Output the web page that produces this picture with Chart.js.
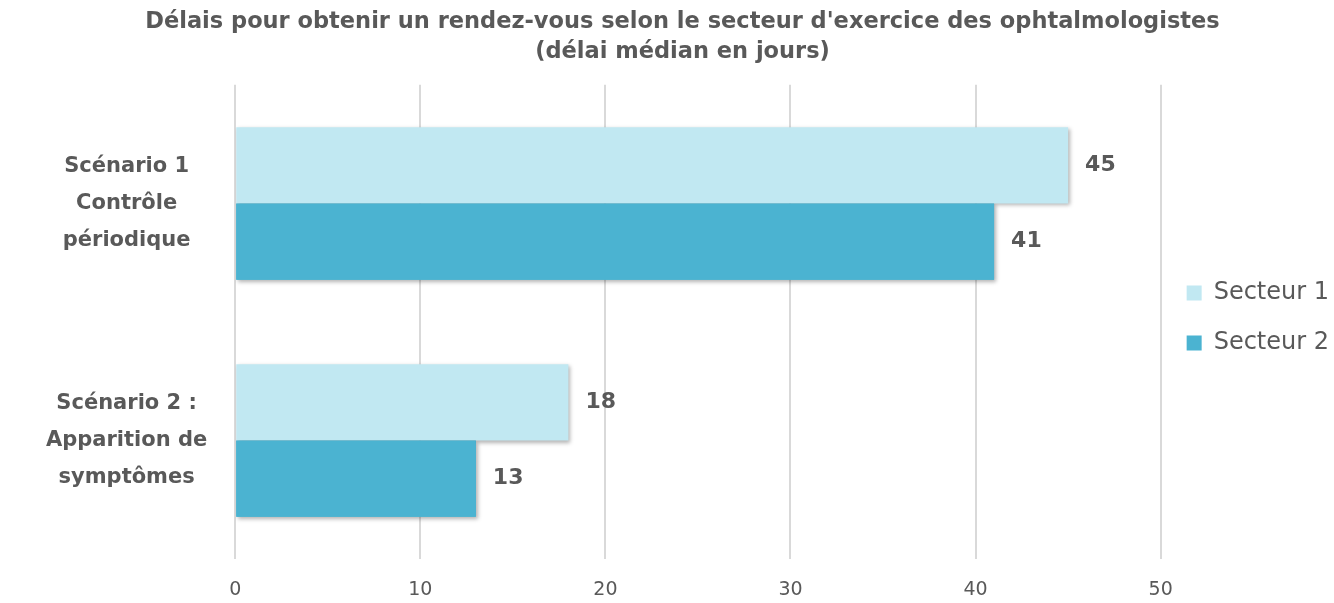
<!DOCTYPE html>
<html>
<head>
<meta charset="utf-8">
<script src="https://cdn.jsdelivr.net/npm/chart.js@4"></script>
<style>
  html, body { margin: 0; padding: 0; background: #ffffff; }
  #wrap { width: 1334px; height: 603px; }
</style>
</head>
<body>
<div id="wrap"><canvas id="myChart"></canvas></div>
<script>
//data

const categories = [
  ['Scénario 1', 'Contrôle', 'périodique'],
  ['Scénario 2 :', 'Apparition de', 'symptômes']
];
const secteur1 = [45, 18];
const secteur2 = [41, 13];
const xTicks = [0, 10, 20, 30, 40, 50];

const FONT = "'DejaVu Sans', sans-serif";
const GREY = '#595959';

//plugins

// soft shadow under the bars
// chart.js paints the 2nd dataset first, so it is painted again at the end
// to keep the shadow of the 1st one off it
const barShadow = {
  id: 'barShadow',
  beforeDatasetsDraw(chart) {
    const ctx = chart.ctx;
    ctx.save();
    ctx.shadowColor = 'rgba(0,0,0,0.3)';
    ctx.shadowBlur = 4;
    ctx.shadowOffsetX = 2;
    ctx.shadowOffsetY = 2;
  },
  afterDatasetsDraw(chart) {
    const ctx = chart.ctx;
    ctx.restore();
    chart.getDatasetMeta(1).data.forEach(bar => bar.draw(ctx));
  }
};

// nudge the legend down a little
const legendShift = {
  id: 'legendShift',
  afterLayout(chart) {
    chart.legend.top += 8;
    chart.legend.bottom += 8;
  }
};

// value labels at the end of each bar
const valueLabels = {
  id: 'valueLabels',
  afterDatasetsDraw(chart) {
    const ctx = chart.ctx;
    ctx.save();
    ctx.font = 'bold 22px ' + FONT;
    ctx.fillStyle = GREY;
    ctx.textAlign = 'left';
    ctx.textBaseline = 'middle';
    chart.data.datasets.forEach((ds, i) => {
      chart.getDatasetMeta(i).data.forEach((bar, j) => {
        ctx.fillText(ds.data[j], bar.x + 17, bar.y);
      });
    });
    ctx.restore();
  }
};

//config

const data = {
  labels: categories,
  datasets: [{
    label: 'Secteur 1',
    data: secteur1,
    backgroundColor: '#C1E8F2',
    categoryPercentage: 0.643,
    barPercentage: 1
  }, {
    label: 'Secteur 2',
    data: secteur2,
    backgroundColor: '#4BB3D1',
    categoryPercentage: 0.643,
    barPercentage: 1
  }]
};

const config = {
  type: 'bar',
  data,
  options: {
    indexAxis: 'y',
    responsive: true,
    maintainAspectRatio: false,
    animation: false,
    layout: { padding: { top: 0, right: -5, bottom: -17, left: 26 } },
    scales: {
      x: {
        min: 0,
        max: 50,
        afterBuildTicks(axis) { axis.ticks = xTicks.map(v => ({ value: v })); },
        grid: { color: '#D9D9D9', lineWidth: 2, drawTicks: false },
        border: { display: false },
        ticks: { color: GREY, font: { family: FONT, size: 19 }, padding: 19 }
      },
      y: {
        afterFit(axis) { axis.paddingTop = 0; axis.paddingBottom = 0; },
        grid: { display: false },
        border: { display: false },
        ticks: {
          color: GREY,
          crossAlign: 'center',
          font: { family: FONT, size: 21, weight: 'bold', lineHeight: 1.75 },
          padding: 20
        }
      }
    },
    plugins: {
      title: {
        display: true,
        text: ["Délais pour obtenir un rendez-vous selon le secteur d'exercice des ophtalmologistes", '(délai médian en jours)'],
        color: GREY,
        font: { family: FONT, size: 22.5, weight: 'bold', lineHeight: 1.33 },
        padding: { top: 7, bottom: 18 }
      },
      legend: {
        position: 'right',
        labels: {
          color: GREY,
          font: { family: FONT, size: 24 },
          boxWidth: 15,
          boxHeight: 15,
          padding: 26
        }
      },
      tooltip: { enabled: false }
    }
  },
  plugins: [barShadow, legendShift, valueLabels]
};

//render

const myChart = new Chart(document.getElementById('myChart'), config);
</script>
</body>
</html>
